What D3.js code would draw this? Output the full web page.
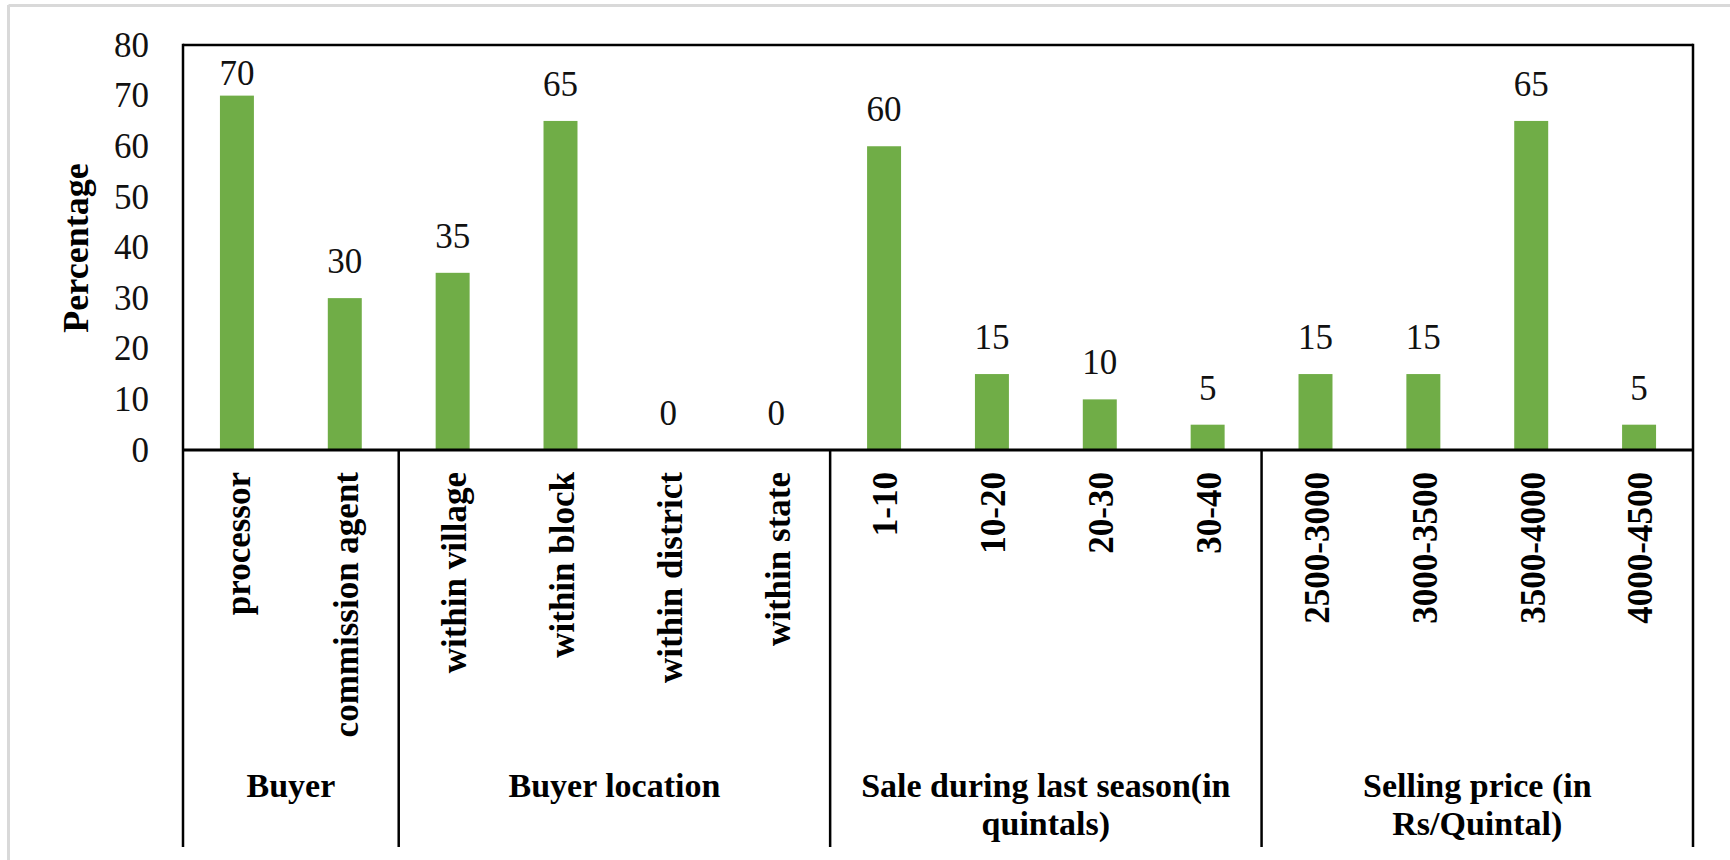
<!DOCTYPE html>
<html>
<head>
<meta charset="utf-8">
<script src="https://cdn.jsdelivr.net/npm/d3@7"></script>
<style>
  html, body { margin: 0; padding: 0; background: #ffffff; }
  svg { display: block; }
  text { font-family: "Liberation Serif", "Times New Roman", serif; }
</style>
</head>
<body>
<svg id="chart" width="1730" height="860"></svg>
<script>
// Category labels, one per bar
const categories = [
  "processor", "commission agent",
  "within village", "within block", "within district", "within state",
  "1-10", "10-20", "20-30", "30-40",
  "2500-3000", "3000-3500", "3500-4000", "4000-4500"
];

// Percentage of respondents for each category
const values = [70, 30, 35, 65, 0, 0, 60, 15, 10, 5, 15, 15, 65, 5];

// Outer category groups: label lines and number of bars in each
const groupLabels = [
  ["Buyer"],
  ["Buyer location"],
  ["Sale during last season(in", "quintals)"],
  ["Selling price (in", "Rs/Quintal)"]
];
const groupSizes = [2, 4, 4, 4];

// Value axis ticks
const yTicks = [0, 10, 20, 30, 40, 50, 60, 70, 80];
const yTitle = "Percentage";

const svg = d3.select("#chart");

const plot = { left: 183, right: 1693, top: 45, base: 450, bottom: 847 };
const barColor = "#70AD47";

const x = d3.scaleBand()
  .domain(categories)
  .range([plot.left, plot.right])
  .paddingInner(0.685)
  .paddingOuter(0.3425);

const y = d3.scaleLinear()
  .domain([0, 80])
  .range([plot.base, plot.top]);

// Light page border
svg.append("line")
  .attr("x1", 8.5).attr("x2", 8.5).attr("y1", 5).attr("y2", 860)
  .attr("stroke", "#d9d9d9").attr("stroke-width", 3);
svg.append("line")
  .attr("x1", 8.5).attr("x2", 1730).attr("y1", 5.5).attr("y2", 5.5)
  .attr("stroke", "#d9d9d9").attr("stroke-width", 3);

// Bars
const datum = categories.map((c, i) => ({ c, v: values[i] }));
svg.append("g")
  .selectAll("rect")
  .data(datum)
  .join("rect")
  .attr("x", d => x(d.c))
  .attr("y", d => y(d.v))
  .attr("width", x.bandwidth())
  .attr("height", d => y(0) - y(d.v))
  .attr("fill", barColor);

// Value labels above the bars
svg.append("g")
  .selectAll("text")
  .data(datum)
  .join("text")
  .attr("x", d => x(d.c) + x.bandwidth() / 2)
  .attr("y", d => Math.max(y(d.v) - 25, y(80) + 40))
  .attr("text-anchor", "middle")
  .attr("font-size", 35)
  .attr("fill", "#111")
  .text(d => d.v);

// Y axis labels
const yAxis = svg.append("g")
  .attr("transform", `translate(${plot.left},0)`)
  .call(d3.axisLeft(y).tickValues(yTicks).tickSize(0).tickPadding(34));
yAxis.select(".domain").remove();
yAxis.selectAll("text")
  .attr("font-family", "Liberation Serif, Times New Roman, serif")
  .attr("font-size", 35)
  .attr("fill", "#111");

// Y axis title
svg.append("text")
  .attr("transform", `translate(88,248) rotate(-90)`)
  .attr("text-anchor", "middle")
  .attr("font-size", 36)
  .attr("font-weight", "bold")
  .attr("fill", "#000")
  .text(yTitle);

// Category axis with vertical labels
const xAxis = svg.append("g")
  .attr("transform", `translate(0,${plot.base})`)
  .call(d3.axisBottom(x).tickSize(0));
xAxis.select(".domain").remove();
xAxis.selectAll("text")
  .attr("font-family", "Liberation Serif, Times New Roman, serif")
  .attr("font-size", 35)
  .attr("font-weight", "bold")
  .attr("fill", "#000")
  .attr("transform", "rotate(-90)")
  .attr("text-anchor", "end")
  .attr("x", -22)
  .attr("y", 0)
  .attr("dy", "0.38em");

// Frame lines
const frame = svg.append("g").attr("stroke", "#000").attr("fill", "none");
frame.append("line")
  .attr("x1", plot.left).attr("x2", plot.right)
  .attr("y1", plot.top).attr("y2", plot.top)
  .attr("stroke-width", 2.5);
frame.append("line")
  .attr("x1", plot.left).attr("x2", plot.right)
  .attr("y1", plot.base).attr("y2", plot.base)
  .attr("stroke-width", 3);
frame.append("line")
  .attr("x1", plot.left).attr("x2", plot.left)
  .attr("y1", plot.top - 1.25).attr("y2", plot.bottom)
  .attr("stroke-width", 2.5);
frame.append("line")
  .attr("x1", plot.right).attr("x2", plot.right)
  .attr("y1", plot.top - 1.25).attr("y2", plot.bottom)
  .attr("stroke-width", 2.5);

// Group dividers and group labels (each line is its own text element)
const step = x.step();
let start = 0;
groupSizes.forEach((n, gi) => {
  const x0 = plot.left + start * step;
  const x1 = plot.left + (start + n) * step;
  if (gi > 0) {
    frame.append("line")
      .attr("x1", x0).attr("x2", x0)
      .attr("y1", plot.base).attr("y2", plot.bottom)
      .attr("stroke-width", 2.5);
  }
  groupLabels[gi].forEach((line, li) => {
    svg.append("text")
      .attr("x", (x0 + x1) / 2)
      .attr("y", 797 + li * 38)
      .attr("text-anchor", "middle")
      .attr("font-size", 34)
      .attr("font-weight", "bold")
      .attr("fill", "#000")
      .text(line);
  });
  start += n;
});
</script>
</body>
</html>
